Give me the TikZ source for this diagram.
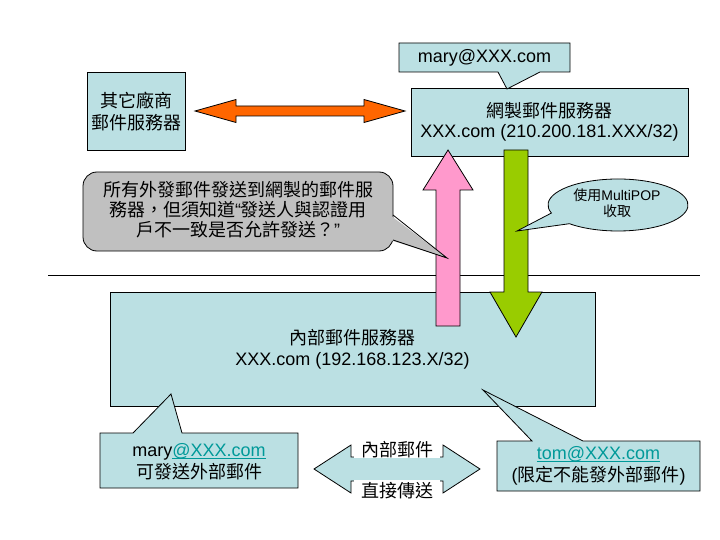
\documentclass[tikz,border=0pt]{standalone}
\usepackage{fontspec}
\setmainfont{Liberation Sans}
\newfontfamily\cjk{Noto Sans CJK TC}
\definecolor{boxblue}{RGB}{187,224,227}
\definecolor{orangearrow}{RGB}{255,102,0}
\definecolor{pinkarrow}{RGB}{255,153,204}
\definecolor{greenarrow}{RGB}{153,204,0}
\definecolor{calloutgray}{RGB}{192,192,192}
\definecolor{linkteal}{RGB}{0,153,153}
\newcommand\linkul[1]{\setbox0\hbox{#1}\rlap{\rule[-2.4pt]{\wd0}{1pt}}\box0}
\begin{document}
\begin{tikzpicture}[x=1pt,y=-1pt,
  shapeline/.style={draw=black, line width=0.8pt, line join=miter},
  bluebox/.style={shapeline, fill=boxblue, inner sep=0pt, align=center},
  lbl/.style={inner sep=0pt, align=center, font=\fontsize{18}{21}\selectfont},
  zh/.style={font=\cjk\fontsize{18}{22}\selectfont}]
\useasboundingbox (0,0) rectangle (720,540);

% separator line
\coordinate (lineL) at (48,275.5);
\coordinate (lineR) at (700,275.5);
\draw[line width=0.8pt] (lineL) -- (lineR);

% main boxes
\node[bluebox, zh, minimum width=98, minimum height=78] (other) at (136,111) {其它廠商\\郵件服務器};
\node[bluebox, font=\fontsize{18}{20}\selectfont, minimum width=277, minimum height=68] (web) at (549.5,122)
  {{\cjk 網製郵件服務器}\\XXX.com (210.200.181.XXX/32)};
\node[bluebox, font=\fontsize{18}{21}\selectfont, minimum width=485, minimum height=114] (inner) at (352.5,349)
  {{\cjk 內部郵件服務器}\\XXX.com (192.168.123.X/32)};

% block arrows
\draw[shapeline, fill=orangearrow] (195,111) -- (236,99.5) -- (236,106) -- (364,106) -- (364,99.5) -- (405,111)
  -- (364,122.5) -- (364,116) -- (236,116) -- (236,122.5) -- cycle;
\draw[shapeline, fill=pinkarrow] (448,150) -- (473,190) -- (460,190) -- (460,326) -- (436,326) -- (436,190) -- (423,190) -- cycle;
\draw[shapeline, fill=greenarrow] (504,150) -- (528,150) -- (528,292) -- (542,292) -- (516,337) -- (490,292) -- (504,292) -- cycle;

% top callout
\draw[shapeline, fill=boxblue] (399,43) -- (570,43) -- (570,72) -- (540,72) -- (507,89) -- (498,72) -- (399,72) -- cycle;
\node[lbl] (marytop) at (484.5,57.5) {mary@XXX.com};

% gray note callout
\draw[shapeline, fill=calloutgray, rounded corners=14] (83,172) rectangle (393,251);
\fill[calloutgray] (390,215) -- (447,258) -- (390,240) -- cycle;
\draw[shapeline] (393,215) -- (447,258) -- (393,240);
\node[lbl, font=\cjk\fontsize{18}{20}\selectfont] (note) at (238,209.5)
  {所有外發郵件發送到網製的郵件服\\務器，但須知道{\rmfamily “}發送人與認證用\\戶不一致是否允許發送？{\rmfamily ”}};

% MultiPOP callout
\draw[shapeline, fill=boxblue] (618,205) ++(162:70 and 26) arc[start angle=162, end angle=494, x radius=70, y radius=26] -- (517,231) -- cycle;
\node[lbl, font=\fontsize{14}{16}\selectfont] (multipop) at (617,203) {{\cjk 使用}MultiPOP\\{\cjk 收取}};

% bottom callouts
\draw[shapeline, fill=boxblue] (100,433) -- (133,433) -- (171,394) -- (182,433) -- (298,433) -- (298,488) -- (100,488) -- cycle;
\node[lbl, font=\fontsize{18}{22}\selectfont] (marybot) at (199,462)
  {mary\textcolor{linkteal}{\linkul{@XXX.com}}\\{\cjk 可發送外部郵件}};
\draw[shapeline, fill=boxblue] (497,441) -- (532,441) -- (483,390) -- (583,441) -- (700,441) -- (700,491) -- (497,491) -- cycle;
\node[lbl, font=\fontsize{18}{21.5}\selectfont] (tom) at (598.5,466)
  {\textcolor{linkteal}{\linkul{tom@XXX.com}}\\({\cjk 限定不能發外部郵件})};

% internal double arrow
\draw[shapeline, fill=boxblue] (314,469) -- (351,445) -- (351,457) -- (443,457) -- (443,445) -- (480,469)
  -- (443,493) -- (443,481) -- (351,481) -- (351,493) -- cycle;
\node[zh, fill=white, inner xsep=0pt, inner ysep=0pt, minimum width=86, anchor=south] (intmail) at (397,458) {內部郵件};
\node[zh, fill=white, inner xsep=0pt, inner ysep=2pt, minimum width=86, anchor=north] (direct) at (397,480) {直接傳送};
\end{tikzpicture}
\end{document}
